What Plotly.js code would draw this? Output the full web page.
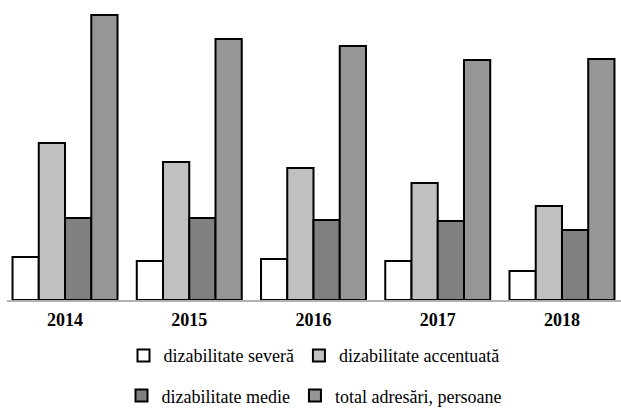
<!DOCTYPE html>
<html>
<head>
<meta charset="utf-8">
<script src="https://cdn.plot.ly/plotly-3.0.1.min.js"></script>
<style>
html,body{margin:0;padding:0;background:#fff;}
#chart{width:621px;height:410px;}
#chart .legendtext{font-family:'Liberation Serif', 'Times New Roman', serif !important;}
</style>
</head>
<body>
<div id="chart"></div>
<script>
var years = ['2014', '2015', '2016', '2017', '2018'];
var seriesNames = ['dizabilitate severă', 'dizabilitate accentuată', 'dizabilitate medie', 'total adresări, persoane'];
var severa = [43, 39, 41, 39, 29];
var accentuata = [157, 138, 132, 117, 94];
var medie = [82, 82, 80, 79, 70];
var total = [285, 261, 254, 240, 241];
var colors = ['#ffffff', '#c0c0c0', '#808080', '#969696'];
var values = [severa, accentuata, medie, total];
var legends = ['legend', 'legend', 'legend2', 'legend2'];
var serif = 'Liberation Serif';

var traces = values.map(function (v, i) {
  return {
    type: 'bar', x: years, y: v, name: seriesNames[i],
    marker: {color: colors[i], line: {color: '#000000', width: 2}},
    legend: legends[i], hoverinfo: 'skip'
  };
});

var layout = {
  width: 621, height: 410,
  margin: {l: 7, r: 0, t: 0, b: 110, autoexpand: false},
  paper_bgcolor: '#ffffff', plot_bgcolor: '#ffffff',
  barmode: 'group', bargap: 0.155, bargroupgap: 0,
  font: {family: serif, color: '#000000', size: 18},
  xaxis: {
    type: 'category', range: [-0.467, 4.475], showline: true, linecolor: '#b0b0b0', linewidth: 2,
    ticks: '', showgrid: false, zeroline: false, ticklabelstandoff: 2,
    tickfont: {family: serif, size: 18, color: '#000000', weight: 'bold'}
  },
  yaxis: {range: [0, 300], visible: false, showgrid: false, zeroline: false},
  legend: {orientation: 'h', x: 0.5, xanchor: 'center', y: -0.124, yanchor: 'top',
    font: {family: serif, size: 18, color: '#000000'}, itemwidth: 30, bgcolor: 'rgba(0,0,0,0)'},
  legend2: {orientation: 'h', x: 0.5, xanchor: 'center', y: -0.258, yanchor: 'top',
    font: {family: serif, size: 18, color: '#000000'}, itemwidth: 30, bgcolor: 'rgba(0,0,0,0)'},
  showlegend: true
};

Plotly.newPlot('chart', traces, layout, {displayModeBar: false, staticPlot: true});
</script>
</body>
</html>
